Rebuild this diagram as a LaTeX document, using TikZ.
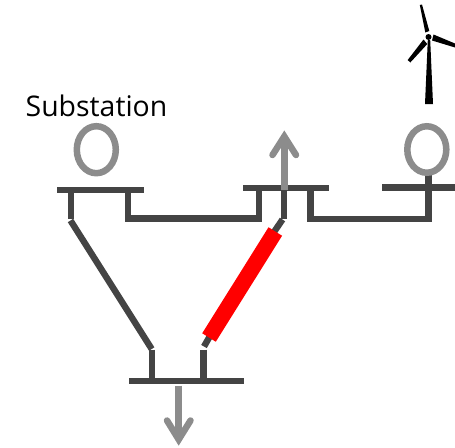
\documentclass[tikz,border=0pt]{standalone}
\usepackage{fontspec}
\setmainfont{Open Sans}
\definecolor{wire}{HTML}{444444}
\definecolor{halo}{HTML}{8C8C8C}
\usetikzlibrary{shapes.geometric}
\tikzset{
  bus/.style={draw=wire,line width=6.4pt},
  wireline/.style={draw=wire,line width=6.4pt,line join=miter},
  gen/.style={draw=halo,line width=6.5pt,ellipse,inner sep=0pt,outer sep=0pt},
  loadarrow/.style={draw=halo,line width=6.5pt},
  barb/.style={draw=halo,line width=6.5pt,line cap=round,line join=miter},
  blade/.style={fill=black,draw=none}
}
\begin{document}
\begin{tikzpicture}[x=1pt,y=-1pt]
\useasboundingbox (0,0) rectangle (455,447);
% wires
\coordinate (b1l) at (57,190); \coordinate (b1r) at (144,190);
\coordinate (b2l) at (243,188); \coordinate (b2r) at (329,188);
\coordinate (b3l) at (129,380.7); \coordinate (b3r) at (244,380.7);
\coordinate (b4l) at (382,187.5); \coordinate (b4r) at (455,187.5);
\coordinate (a1) at (70.7,190); \coordinate (a2) at (70.7,219);
\coordinate (a3) at (70.5,220.5); \coordinate (a4) at (151.7,349);
\coordinate (a5) at (152,349.5); \coordinate (a6) at (152,380);
\coordinate (c1) at (128,190); \coordinate (c2) at (128,218.3); \coordinate (c3) at (258.8,218.3); \coordinate (c4) at (258.8,188);
\coordinate (d1) at (310.3,188); \coordinate (d2) at (310.3,219); \coordinate (d3) at (428.5,219); \coordinate (d4) at (428.5,172);
\coordinate (e1) at (283.7,188); \coordinate (e2) at (283.7,218.5);
\coordinate (e3) at (282.5,219.5); \coordinate (e4) at (274,232);
\coordinate (e5) at (275.3,231.5); \coordinate (e6) at (209,337.5);
\coordinate (e7) at (210,336); \coordinate (e8) at (204,346.5);
\coordinate (e9) at (203.5,349.5); \coordinate (e10) at (203.5,380);
\draw[wireline] (a1) -- (a2);
\draw[wireline] (a3) -- (a4);
\draw[wireline] (a5) -- (a6);
\draw[wireline] (c1) -- (c2) -- (c3) -- (c4);
\draw[wireline] (d1) -- (d2) -- (d3) -- (d4);
\draw[wireline] (e1) -- (e2);
\draw[wireline] (e3) -- (e4);
\draw[wireline] (e7) -- (e8);
\draw[wireline] (e9) -- (e10);
\draw[red,line width=16pt] (e5) -- (e6);
% buses
\draw[bus] (b1l) -- (b1r);
\draw[bus] (b2l) -- (b2r);
\draw[bus] (b3l) -- (b3r);
\draw[bus] (b4l) -- (b4r);
% generators
\node[gen,minimum width=39pt,minimum height=47pt] (g1) at (96.3,149.7) {};
\node[gen,minimum width=39pt,minimum height=46.5pt] (g2) at (426.8,149.5) {};
% loads
\coordinate (u1) at (284.3,190); \coordinate (u2) at (284.3,136.5);
\coordinate (u3) at (272.5,155); \coordinate (u4) at (296,155);
\draw[loadarrow] (u1) -- (u2);
\draw[barb] (u3) -- (u2) -- (u4);
\coordinate (v1) at (178.7,385.7); \coordinate (v2) at (178.7,439.5);
\coordinate (v3) at (167,420.5); \coordinate (v4) at (190.5,420.5);
\draw[loadarrow] (v1) -- (v2);
\draw[barb] (v3) -- (v2) -- (v4);
% label
\node[font=\fontsize{28.4}{32}\selectfont,inner sep=0pt,anchor=base] (lab) at (96.5,116) {Substation};
% turbine
\fill[blade] (427.8,40) -- (430.2,40) -- (433,104) -- (425,104) -- cycle;
\fill[blade] (428.5,37) circle (3);
\fill[blade] (419.8,5) -- (422,4.5) -- (429.3,31) -- (425.3,32.5) -- cycle;
\fill[blade] (433.5,34.5) -- (455,43.5) -- (455,47.5) -- (432,40.5) -- cycle;
\fill[blade] (423.5,39.5) -- (427.3,44) -- (410.3,62.5) -- (407.7,60) -- cycle;
\end{tikzpicture}
\end{document}
